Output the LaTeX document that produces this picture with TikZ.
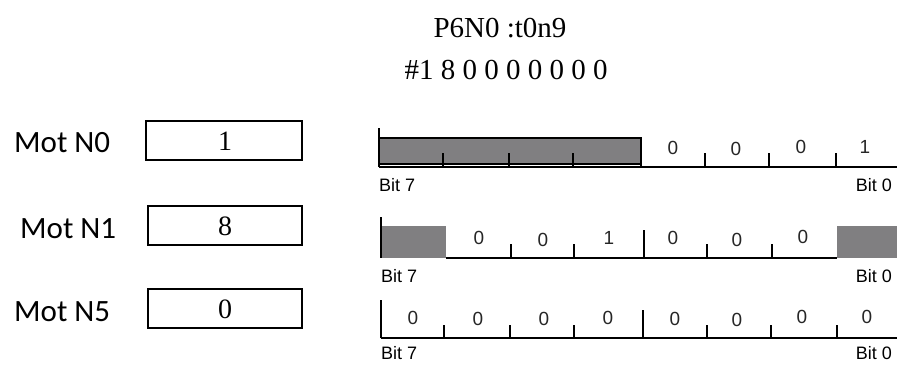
\documentclass[tikz,border=0pt]{standalone}
\usepackage{fontspec}
\setmainfont{Liberation Serif}
\newfontfamily\arialf{Liberation Sans}
\newfontfamily\calf{Carlito}
\definecolor{barg}{RGB}{128,127,129}
\begin{document}
\begin{tikzpicture}[x=1pt,y=-1pt,
  bitlbl/.style={font=\arialf\fontsize{19}{19}\selectfont, inner sep=0pt, text=black!85},
  bitname/.style={font=\arialf\fontsize{18}{18}\selectfont, inner sep=0pt, anchor=base},
  motlbl/.style={font=\calf\fontsize{31}{31}\selectfont, inner sep=0pt, anchor=base west},
  valbox/.style={draw, line width=1.2pt, inner sep=0pt},
  valtxt/.style={font=\fontsize{28}{28}\selectfont, inner sep=0pt, anchor=base},
  titletxt/.style={font=\fontsize{29}{29}\selectfont, inner sep=0pt, anchor=base},
  tick/.style={line width=1.5pt},
  base/.style={line width=1.5pt},
  grayfill/.style={fill=barg}]
\useasboundingbox (0,0) rectangle (897,365);

% titles
\node[titletxt] (t1) at (500,37) {P6N0 :t0n9};
\node[titletxt] (t2) at (506,79) {\#1 8 0 0 0 0 0 0 0};

% left labels and boxes
\node[motlbl] (m0) at (14,152) {Mot N0};
\node[motlbl] (m1) at (20,238) {Mot N1};
\node[motlbl] (m5) at (14,321) {Mot N5};
\draw[valbox] (146,121) rectangle (302,160);
\draw[valbox] (148,206) rectangle (302,245);
\draw[valbox] (148,289) rectangle (302,328);
\node[valtxt] (v0) at (225,150) {1};
\node[valtxt] (v1) at (225,235) {8};
\node[valtxt] (v5) at (225,318) {0};

% ---- row 0 (baseline 167)
\fill[grayfill] (379,138) rectangle (641,164);
\draw[line width=1.3pt] (379,138) -- (641,138) -- (641,167);
\draw[line width=1.3pt] (379,164) -- (641,164);
\draw[base] (379,167) -- (897,167);
\draw[tick] (379,128) -- (379,167);
\foreach \x in {443,509,573,705,769,836} \draw[tick] (\x,153) -- (\x,167);
\node[bitlbl] (r0c4) at (673,148) {0};
\node[bitlbl] (r0c5) at (736,149) {0};
\node[bitlbl] (r0c6) at (801,147) {0};
\node[bitlbl] (r0c7) at (865,147) {1};
\node[bitname, anchor=base west] (r0b7) at (379,191) {Bit 7};
\node[bitname, anchor=base east] (r0b0) at (892,191) {Bit 0};

% ---- row 1 (baseline 258)
\fill[grayfill] (381,226) rectangle (446,258);
\fill[grayfill] (837,226) rectangle (897,258);
\draw[base] (446,258) -- (837,258);
\draw[tick] (381,217) -- (381,258);
\foreach \x in {511,574,707,772} \draw[tick] (\x,244) -- (\x,258);
\draw[tick] (644,230) -- (644,258);
\node[bitlbl] (r1c1) at (479,238) {0};
\node[bitlbl] (r1c2) at (543,240) {0};
\node[bitlbl] (r1c3) at (609,238) {1};
\node[bitlbl] (r1c4) at (673,238) {0};
\node[bitlbl] (r1c5) at (737,240) {0};
\node[bitlbl] (r1c6) at (803,237) {0};
\node[bitname, anchor=base west] (r1b7) at (381,282) {Bit 7};
\node[bitname, anchor=base east] (r1b0) at (892,282) {Bit 0};

% ---- row 2 (baseline 338)
\draw[base] (381,338) -- (897,338);
\draw[tick] (381,300) -- (381,338);
\foreach \x in {444,510,574,707,771,837} \draw[tick] (\x,325) -- (\x,338);
\draw[tick] (643,310) -- (643,338);
\node[bitlbl] (r2c0) at (413,318) {0};
\node[bitlbl] (r2c1) at (478,319) {0};
\node[bitlbl] (r2c2) at (544,319) {0};
\node[bitlbl] (r2c3) at (608,318) {0};
\node[bitlbl] (r2c4) at (675,319) {0};
\node[bitlbl] (r2c5) at (737,320) {0};
\node[bitlbl] (r2c6) at (802,317) {0};
\node[bitlbl] (r2c7) at (867,317) {0};
\node[bitname, anchor=base west] (r2b7) at (381,359) {Bit 7};
\node[bitname, anchor=base east] (r2b0) at (892,359) {Bit 0};
\end{tikzpicture}
\end{document}
